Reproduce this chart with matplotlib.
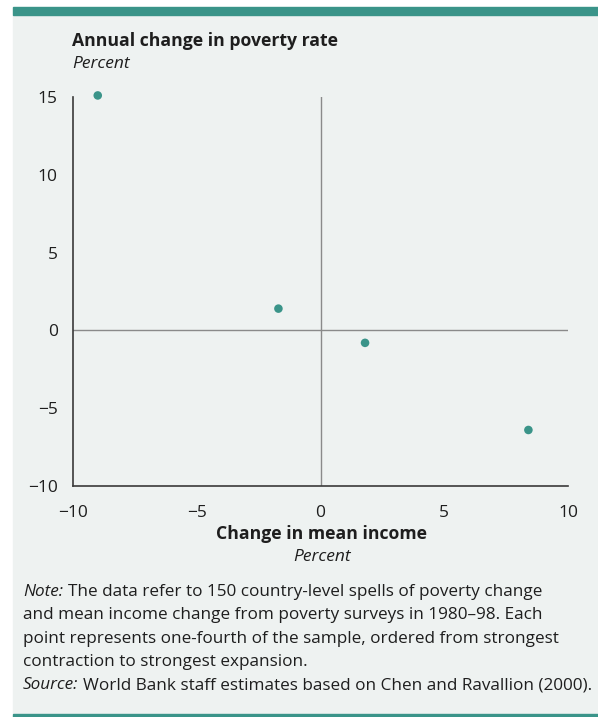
import matplotlib.pyplot as plt
from matplotlib.patches import Rectangle

# values
income_change = [-9.0, -1.7, 1.8, 8.4]
poverty_change = [15.1, 1.4, -0.8, -6.4]
x_ticks = [-10, -5, 0, 5, 10]
y_ticks = [-10, -5, 0, 5, 10, 15]
x_tick_labels = ["\u221210", "\u22125", "0", "5", "10"]
y_tick_labels = ["\u221210", "\u22125", "0", "5", "10", "15"]

note_lines = [
    "The data refer to 150 country-level spells of poverty change",
    "and mean income change from poverty surveys in 1980\u201398. Each",
    "point represents one-fourth of the sample, ordered from strongest",
    "contraction to strongest expansion.",
]
source_text = "World Bank staff estimates based on Chen and Ravallion (2000)."

teal = "#3a9489"
panel = "#eef2f1"
ink = "#1e1e1e"

plt.rcParams['font.family'] = ['Open Sans', 'DejaVu Sans']

W, H = 598, 717
fig = plt.figure(figsize=(W / 100, H / 100), dpi=100)
fig.patch.set_facecolor("white")

# panel background and teal rules
fig.patches.append(Rectangle((13 / W, 1 - 713 / H), (W - 13) / W, (713 - 15) / H,
                             transform=fig.transFigure, color=panel, zorder=-10))
fig.patches.append(Rectangle((13 / W, 1 - 15 / H), (W - 13) / W, 8 / H,
                             transform=fig.transFigure, color=teal, zorder=-9))
fig.patches.append(Rectangle((13 / W, 1 - 717 / H), (W - 13) / W, 3.5 / H,
                             transform=fig.transFigure, color=teal, zorder=-9))

left, right, top, bottom = 73, 568, 97, 486
ax = fig.add_axes([left / W, 1 - bottom / H, (right - left) / W, (bottom - top) / H])
ax.set_facecolor("none")

ax.axhline(0, color="#8a8a8a", lw=1.0, zorder=1)
ax.axvline(0, color="#8a8a8a", lw=1.0, zorder=1)
ax.scatter(income_change, poverty_change, s=38, color=teal, edgecolors="none", zorder=3,
           clip_on=False)

ax.set_xlim(-10, 10)
ax.set_ylim(-10, 15)
ax.set_xticks(x_ticks)
ax.set_xticklabels(x_tick_labels)
ax.set_yticks(y_ticks)
ax.set_yticklabels(y_tick_labels)
ax.tick_params(length=0, labelsize=12.5, colors=ink)
ax.tick_params(axis="y", pad=11)
ax.tick_params(axis="x", pad=14)
for side in ["top", "right"]:
    ax.spines[side].set_visible(False)
for side in ["left", "bottom"]:
    ax.spines[side].set_color("#3a3a3a")
    ax.spines[side].set_linewidth(1.2)

fig.text(72 / W, 1 - 41 / H, "Annual change in poverty rate", fontsize=12.7,
         fontweight="bold", color=ink, va="center", ha="left")
fig.text(72 / W, 1 - 64 / H, "Percent", fontsize=12.5, style="italic",
         color=ink, va="center", ha="left")
fig.text(322 / W, 1 - 534 / H, "Change in mean income", fontsize=12.7,
         fontweight="bold", color=ink, va="center", ha="center")
fig.text(322 / W, 1 - 557 / H, "Percent", fontsize=12.5, style="italic",
         color=ink, va="center", ha="center")

# note block: italic lead-in followed by regular text
fs = 12.3
y = 592
lead = fig.text(23 / W, 1 - y / H, "Note:", fontsize=fs, style="italic",
                color=ink, va="center")
ax.annotate(note_lines[0], xy=(1, 0), xycoords=lead, xytext=(3.5, 0),
            textcoords="offset points", fontsize=fs, color=ink, va="bottom", ha="left",
            annotation_clip=False)
for line in note_lines[1:]:
    y += 23.3
    fig.text(23 / W, 1 - y / H, line, fontsize=fs, color=ink, va="center")
y += 23.3
src = fig.text(23 / W, 1 - y / H, "Source:", fontsize=fs, style="italic",
               color=ink, va="center")
ax.annotate(source_text, xy=(1, 0), xycoords=src, xytext=(3.5, 0),
            textcoords="offset points", fontsize=fs, color=ink, va="bottom", ha="left",
            annotation_clip=False)

fig.savefig("out.png", dpi=100, facecolor=fig.get_facecolor())
